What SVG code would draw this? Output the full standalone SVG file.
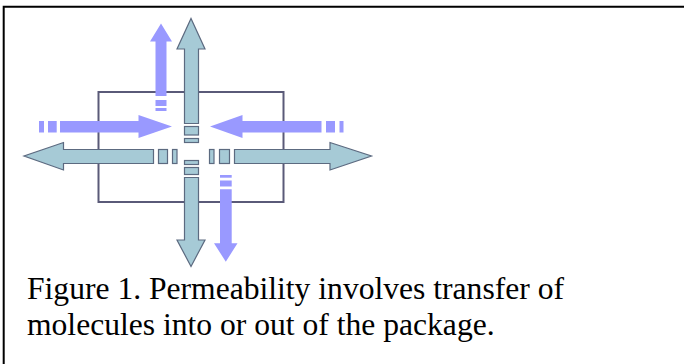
<svg xmlns="http://www.w3.org/2000/svg" width="684" height="364" viewBox="0 0 684 364">
<style>
.teal{fill:#a6cad6;stroke:#5c6a80;stroke-width:1.2;stroke-linejoin:miter}
.pur{fill:#9999ff;stroke:none}
.cap{font-family:"Liberation Serif","Times New Roman",serif;font-size:31.6px;fill:#000}
</style>
<rect width="684" height="364" fill="#fff"/>
<path d="M3.7,364 V6.7 H684" fill="none" stroke="#000" stroke-width="2"/>
<g id="package"><rect x="98.5" y="92" width="185" height="110" fill="none" stroke="#5a5a78" stroke-width="2"/></g>
<g id="connectors">
<g id="teal-up">
<polygon class="teal" points="184.5,123.5 184.5,49 177,49 191,18.5 205,49 198.5,49 198.5,123.5"/>
<rect class="teal" x="184.5" y="126.5" width="14" height="8.5"/>
<rect class="teal" x="184.5" y="138.5" width="14" height="4"/>
</g>
<g id="teal-down">
<rect class="teal" x="184.5" y="160.5" width="14" height="4"/>
<rect class="teal" x="184.5" y="167.5" width="14" height="7"/>
<polygon class="teal" points="184.5,177.5 198.5,177.5 198.5,240 205,240 191,266.5 177,240 184.5,240"/>
</g>
<g id="teal-left">
<polygon class="teal" points="153.5,149.5 63.5,149.5 63.5,142.5 24,156 63.5,170 63.5,163.5 153.5,163.5"/>
<rect class="teal" x="158.5" y="149.5" width="9" height="14"/>
<rect class="teal" x="172.5" y="149.5" width="4.5" height="14"/>
</g>
<g id="teal-right">
<rect class="teal" x="209.5" y="149.5" width="4.5" height="14"/>
<rect class="teal" x="219.5" y="149.5" width="10" height="14"/>
<polygon class="teal" points="234.5,149.5 330,149.5 330,142.5 371.5,156 330,170 330,163.5 234.5,163.5"/>
</g>
<g id="purple-in-left">
<rect class="pur" x="39" y="121" width="5" height="11.5"/>
<rect class="pur" x="48" y="121" width="8.7" height="11.5"/>
<polygon class="pur" points="60,121 138.5,121 138.5,115 172,126.5 138.5,138 138.5,132.5 60,132.5"/>
</g>
<g id="purple-in-right">
<polygon class="pur" points="321.5,121 242.5,121 242.5,115 210,126.5 242.5,138 242.5,132.5 321.5,132.5"/>
<rect class="pur" x="326" y="121" width="9" height="11.5"/>
<rect class="pur" x="339.5" y="121" width="4" height="11.5"/>
</g>
<g id="purple-up">
<polygon class="pur" points="155.5,96 155.5,41.5 150,41.5 161,23.5 172,41.5 166.5,41.5 166.5,96"/>
<rect class="pur" x="155.5" y="100" width="11" height="6"/>
<rect class="pur" x="155.5" y="108" width="11" height="3"/>
</g>
<g id="purple-down">
<rect class="pur" x="220" y="175" width="11.7" height="2.7"/>
<rect class="pur" x="220" y="180.5" width="11.7" height="6"/>
<polygon class="pur" points="220,189.3 231.7,189.3 231.7,243.3 237.5,243.3 225.8,261.7 214,243.3 220,243.3"/>
</g>
</g>
<g id="caption">
<text class="cap" x="27" y="299">Figure 1. Permeability involves transfer of</text>
<text class="cap" x="27" y="334.5">molecules into or out of the package.</text>
</g>
</svg>
